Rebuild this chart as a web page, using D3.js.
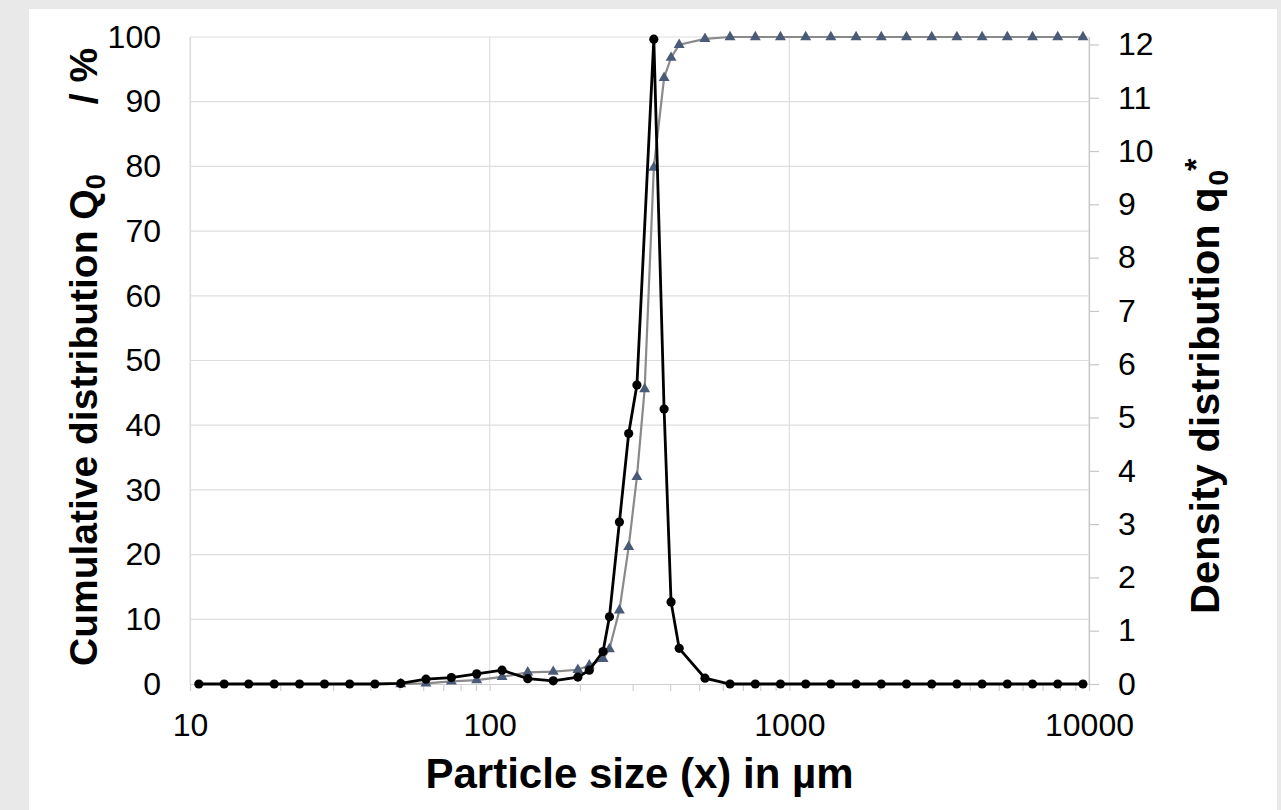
<!DOCTYPE html>
<html>
<head>
<meta charset="utf-8">
<script src="https://cdn.jsdelivr.net/npm/d3@7"></script>
<style>
  html, body { margin: 0; padding: 0; background: #e9e9e9; }
  svg { display: block; }
  text { font-family: "Liberation Sans", Arial, sans-serif; fill: #000; }
</style>
</head>
<body>
<svg id="chart" width="1281" height="810"></svg>
<script>
// Particle size classes (µm)
const sizes = [10.7, 13.0, 15.7, 19.1, 23.2, 28.1, 34.1, 41.4, 50.5, 61.3,
               74.5, 90.5, 110, 134, 163, 197, 215, 239, 251, 271,
               291, 310, 329, 353, 382, 403, 429, 523, 634, 770,
               934, 1134, 1376, 1670, 2027, 2460, 2986, 3624, 4398, 5338,
               6479, 7864, 9545];

// Cumulative distribution Q0 (%), left axis
const cumulative = [null, null, null, null, null, null, null, null, 0, 0.1,
                    0.4, 0.6, 1.1, 1.8, 1.9, 2.2, 2.9, 3.9, 5.4, 11.4,
                    21.2, 32, 45.6, 79.8, 93.7, 96.8, 98.8, 99.7, 100, 100,
                    100, 100, 100, 100, 100, 100, 100, 100, 100, 100,
                    100, 100, 100];

// Density distribution q0* , right axis
const density = [0, 0, 0, 0, 0, 0, 0, 0, 0.01, 0.09,
                 0.12, 0.19, 0.26, 0.10, 0.06, 0.13, 0.26, 0.61, 1.26, 3.04,
                 4.70, 5.61, null, 12.1, 5.16, 1.54, 0.67, 0.11, 0, 0,
                 0, 0, 0, 0, 0, 0, 0, 0, 0, 0,
                 0, 0, 0];

const xMajor = [10, 100, 1000, 10000];
const leftTicks = [0, 10, 20, 30, 40, 50, 60, 70, 80, 90, 100];
const rightTicks = [0, 1, 2, 3, 4, 5, 6, 7, 8, 9, 10, 11, 12];

const plot = { left: 190, right: 1089, top: 37, bottom: 684 };

const svg = d3.select("#chart");

// white panel
svg.append("rect")
    .attr("x", 29).attr("y", 9)
    .attr("width", 1248).attr("height", 801)
    .attr("fill", "#fff");

const x = d3.scaleLog()
    .domain([10, 10000])
    .range([plot.left, plot.right]);

const yL = d3.scaleLinear()
    .domain([0, 100])
    .range([plot.bottom, plot.top]);

const yR = d3.scaleLinear()
    .domain([0, 12.14])
    .range([plot.bottom, plot.top]);

// gridlines
const grid = svg.append("g");
grid.selectAll(".hg")
    .data(leftTicks.slice(1))
    .enter()
    .append("line")
    .attr("x1", plot.left).attr("x2", plot.right)
    .attr("y1", d => yL(d)).attr("y2", d => yL(d))
    .attr("stroke", "#dedede").attr("stroke-width", 1.2);
grid.selectAll(".vg")
    .data(xMajor)
    .enter()
    .append("line")
    .attr("x1", d => x(d)).attr("x2", d => x(d))
    .attr("y1", plot.top).attr("y2", plot.bottom)
    .attr("stroke", "#dedede").attr("stroke-width", 1.2);

// minor ticks on log axis
const minor = [];
[10, 100, 1000].forEach(dec => { for (let k = 2; k <= 9; k++) minor.push(dec * k); });

svg.append("g")
    .attr("transform", `translate(0,${plot.bottom})`)
    .call(d3.axisBottom(x).tickValues(minor).tickSize(7).tickFormat(""))
    .call(g => g.select(".domain").remove())
    .call(g => g.selectAll("line").attr("stroke", "#d0d0d0").attr("stroke-width", 1.2));

// bottom axis
svg.append("g")
    .attr("transform", `translate(0,${plot.bottom})`)
    .call(d3.axisBottom(x).tickValues(xMajor).tickSize(7).tickSizeOuter(0).tickPadding(22)
        .tickFormat(d3.format("d")))
    .call(g => g.select(".domain").attr("stroke", "#d0d0d0").attr("stroke-width", 1.2))
    .call(g => g.selectAll("line").attr("stroke", "#d0d0d0").attr("stroke-width", 1.2))
    .call(g => g.selectAll("text").attr("font-size", 32).attr("font-family", "Liberation Sans, Arial, sans-serif"));

// left axis
svg.append("g")
    .attr("transform", `translate(${plot.left},0)`)
    .call(d3.axisLeft(yL).tickValues(leftTicks).tickSize(0).tickSizeOuter(0).tickPadding(29))
    .call(g => g.select(".domain").attr("stroke", "#dedede").attr("stroke-width", 1.2))
    .call(g => g.selectAll("text").attr("font-size", 32).attr("font-family", "Liberation Sans, Arial, sans-serif"));

// right axis
svg.append("g")
    .attr("transform", `translate(${plot.right},0)`)
    .call(d3.axisRight(yR).tickValues(rightTicks).tickSize(10).tickSizeOuter(0).tickPadding(19))
    .call(g => g.select(".domain").attr("stroke", "#c8c8c8").attr("stroke-width", 1.2))
    .call(g => g.selectAll("line").attr("stroke", "#c8c8c8").attr("stroke-width", 1.2))
    .call(g => g.selectAll("text").attr("font-size", 32).attr("font-family", "Liberation Sans, Arial, sans-serif"));

// cumulative series
const cumRows = sizes.map((s, i) => ({ s, v: cumulative[i] })).filter(d => d.v !== null);
const denRows = sizes.map((s, i) => ({ s, v: density[i] })).filter(d => d.v !== null);

svg.append("path")
    .datum(cumRows)
    .attr("fill", "none")
    .attr("stroke", "#8a8a8a")
    .attr("stroke-width", 2.2)
    .attr("d", d3.line().x(d => x(d.s)).y(d => yL(d.v)));

svg.selectAll(".tri")
    .data(cumRows)
    .enter()
    .append("path")
    .attr("class", "tri")
    .attr("transform", d => `translate(${x(d.s)},${yL(d.v)})`)
    .attr("d", d3.symbol(d3.symbolTriangle).size(52))
    .attr("fill", "#4a5b78");

// density series
svg.append("path")
    .datum(denRows)
    .attr("fill", "none")
    .attr("stroke", "#000")
    .attr("stroke-width", 2.8)
    .attr("d", d3.line().x(d => x(d.s)).y(d => yR(d.v)));

svg.selectAll(".dot")
    .data(denRows)
    .enter()
    .append("circle")
    .attr("class", "dot")
    .attr("cx", d => x(d.s))
    .attr("cy", d => yR(d.v))
    .attr("r", 4.6)
    .attr("fill", "#000");

// axis titles
svg.append("text")
    .attr("x", (plot.left + plot.right) / 2)
    .attr("y", 788)
    .attr("text-anchor", "middle")
    .attr("font-size", 42)
    .attr("font-weight", "bold")
    .text("Particle size (x) in µm");

const lt = svg.append("text")
    .attr("transform", "translate(97,666) rotate(-90)")
    .attr("text-anchor", "start")
    .attr("font-size", 39)
    .attr("font-weight", "bold");
lt.append("tspan").text("Cumulative distribution Q");
lt.append("tspan").attr("font-size", 27).attr("dy", 8).text("0");
lt.append("tspan").attr("dx", 70).attr("dy", -8).text("/ %");

const rt = svg.append("text")
    .attr("transform", "translate(1219,614) rotate(-90)")
    .attr("text-anchor", "start")
    .attr("font-size", 41.5)
    .attr("font-weight", "bold");
rt.append("tspan").text("Density distribution q");
rt.append("tspan").attr("font-size", 28).attr("dx", 2).attr("dy", 9).text("0");
rt.append("tspan").attr("font-size", 32).attr("dx", -1).attr("dy", -21).text("*");
</script>
</body>
</html>
